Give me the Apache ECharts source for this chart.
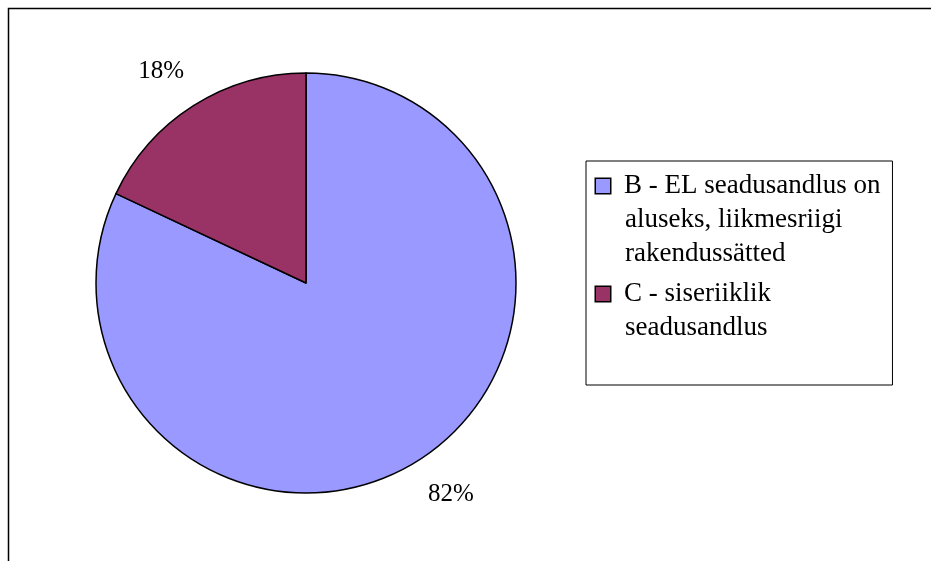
<!DOCTYPE html>
<html>
<head>
<meta charset="utf-8">
<script src="https://cdn.jsdelivr.net/npm/echarts@6/dist/echarts.min.js"></script>
<style>
  html, body { margin: 0; padding: 0; background: #fff; }
  #chart { width: 931px; height: 561px; }
</style>
</head>
<body>
<div id="chart"></div>
<script>
// ---- data ----
var categories = ['B - EL seadusandlus on aluseks, liikmesriigi rakendussätted', 'C - siseriiklik seadusandlus'];
var legendLines = [
  ['B - EL seadusandlus on', 'aluseks, liikmesriigi', 'rakendussätted'],
  ['C - siseriiklik', 'seadusandlus']
];
var values = [82, 18];
var colors = ['#9999FF', '#993366'];

var chart = echarts.init(document.getElementById('chart'), null, { renderer: 'canvas' });

var FONT = "'Liberation Serif', 'Times New Roman', serif";

var pieData = categories.map(function (c, i) {
  return { name: c, value: values[i], itemStyle: { color: colors[i] } };
});

var rich = {
  lead: { width: 5, height: 15, lineHeight: 34 },
  sp: { width: 34, height: 15, lineHeight: 34 },
  gap: { width: 14, height: 15, lineHeight: 34 }
};
colors.forEach(function (col, i) {
  rich['sq' + i] = {
    width: 14, height: 14, lineHeight: 34,
    backgroundColor: col, borderColor: '#000', borderWidth: 1.5
  };
});

var option = {
  backgroundColor: '#ffffff',
  animation: false,
  graphic: [{
    type: 'rect',
    shape: { x: 8.5, y: 8.5, width: 2000, height: 2000 },
    style: { fill: 'none', stroke: '#000', lineWidth: 1.5 },
    silent: true
  }],
  legend: {
    orient: 'vertical',
    left: 586,
    top: 161,
    icon: 'none',
    itemWidth: 0,
    itemHeight: 15,
    itemGap: 6,
    padding: [8, 12, 40, 0],
    borderColor: '#000',
    borderWidth: 1,
    selectedMode: false,
    data: categories,
    formatter: function (name) {
      var idx = categories.indexOf(name);
      var lines = legendLines[idx];
      return lines.map(function (l, j) {
        return (j === 0 ? '{lead|}{sq' + idx + '|}{gap|}' : '{sp|}') + l;
      }).join('\n');
    },
    textStyle: {
      fontFamily: FONT,
      fontSize: 27,
      color: '#000',
      lineHeight: 34,
      rich: rich
    }
  },
  series: [{
    type: 'pie',
    center: [306, 283],
    radius: 210,
    startAngle: 90,
    clockwise: true,
    avoidLabelOverlap: false,
    data: pieData,
    itemStyle: { borderColor: '#000', borderWidth: 1.5 },
    label: {
      show: true,
      position: 'outside',
      formatter: '{d}%',
      fontFamily: FONT,
      fontSize: 25,
      color: '#000',
      distanceToLabelLine: -12
    },
    labelLine: { show: false, length: 40, length2: 0 },
    emphasis: { disabled: true }
  }]
};

chart.setOption(option);
</script>
</body>
</html>
